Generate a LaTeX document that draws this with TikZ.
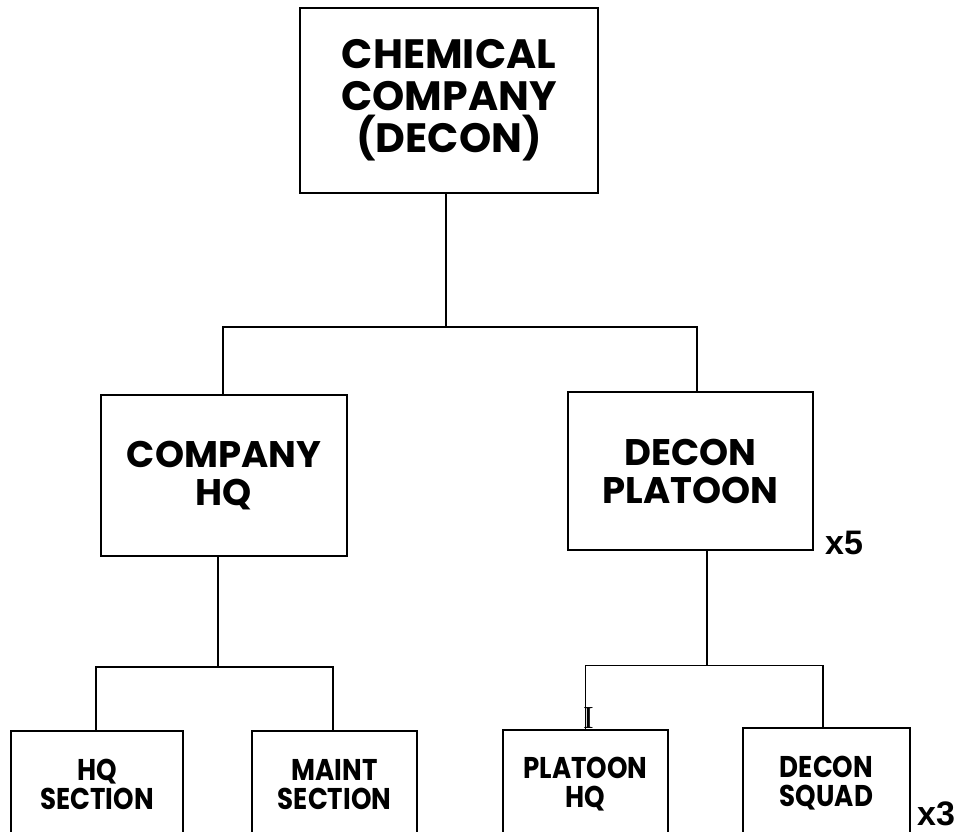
\documentclass[tikz,border=0pt]{standalone}
\usepackage{fontspec}
\setmainfont{Poppins}
\newfontfamily\condfont{Poppins}[FakeStretch=0.87]
\newfontfamily\tagfont{Liberation Sans}
\newfontfamily\serifI{Liberation Serif}
\begin{document}
\begin{tikzpicture}[x=1pt,y=-1pt,
  box/.style={draw,line width=1.6pt,align=center,inner sep=0pt},
  bigtext/.style={font=\fontsize{41}{42}\selectfont\bfseries},
  midtext/.style={font=\fontsize{37}{38}\selectfont\bfseries},
  smalltext/.style={font=\condfont\fontsize{30}{29}\selectfont\bfseries},
  conn/.style={line width=1.6pt},
  tag/.style={inner sep=0pt,anchor=base west,font=\tagfont\fontsize{34}{34}\selectfont\bfseries}]
\useasboundingbox (0,0) rectangle (964,832);
\clip (0,0) rectangle (964,832);
\fill[white] (0,0) rectangle (964,832);

% boxes
\node[box,bigtext,minimum width=298pt,minimum height=185pt] (chem) at (449,100.5) {CHEMICAL\\COMPANY\\(DECON)};
\node[box,midtext,minimum width=246pt,minimum height=161pt] (hq) at (224,475.5) {COMPANY\\HQ};
\node[box,midtext,minimum width=245pt,minimum height=158pt] (plt) at (690.5,471) {DECON\\PLATOON};
\node[box,smalltext,minimum width=172pt,minimum height=107pt] (hqs) at (97,784.5) {HQ\\SECTION};
\node[box,smalltext,minimum width=165pt,minimum height=107pt] (mnt) at (334.5,784.5) {MAINT\\SECTION};
\node[box,smalltext,minimum width=165pt,minimum height=108pt] (phq) at (585.5,784) {PLATOON\\HQ};
\node[box,smalltext,minimum width=167pt,minimum height=110pt] (dsq) at (826.5,783) {DECON\\SQUAD};

% multipliers
\node[tag] (x5) at (825,554) {x5};
\node[tag] (x3) at (917,825) {x3};
\node[inner sep=0pt,font=\serifI\fontsize{32}{32}\selectfont] (iart) at (588.5,718) {I};

% connectors
\coordinate (bus1) at (446,327);
\draw[conn] ([xshift=-3pt]chem.south) -- (bus1);
\draw[conn] ([xshift=-1pt]hq.north) |- (bus1) -| ([xshift=6.5pt]plt.north);

\coordinate (bus2) at (218,667);
\draw[conn] ([xshift=-6pt]hq.south) -- (bus2);
\draw[conn] ([xshift=-1pt]hqs.north) |- (bus2) -| ([xshift=-1.5pt]mnt.north);

\coordinate (bus3) at (707,665.5);
\draw[conn] ([xshift=16.5pt]plt.south) -- (bus3);
\draw[conn] (phq.north) |- (bus3) -| ([xshift=-3.5pt]dsq.north);
\end{tikzpicture}
\end{document}
